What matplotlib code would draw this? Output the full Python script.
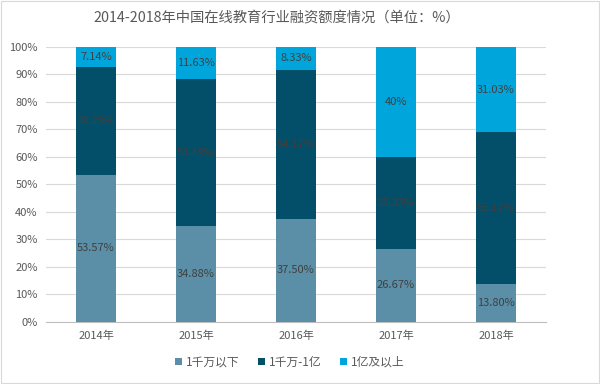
import matplotlib
matplotlib.use("Agg")
import matplotlib.pyplot as plt
from matplotlib.ticker import PercentFormatter
from matplotlib.patches import Rectangle

plt.rcParams['font.family'] = ['Noto Sans CJK SC', 'DejaVu Sans']

years = ['2014年', '2015年', '2016年', '2017年', '2018年']
series_names = ['1千万以下', '1千万-1亿', '1亿及以上']
below_10m = [53.57, 34.88, 37.50, 26.67, 13.80]
m10_to_100m = [39.29, 53.49, 54.17, 33.33, 55.17]
above_100m = [7.14, 11.63, 8.33, 40.00, 31.03]
labels_low = ['53.57%', '34.88%', '37.50%', '26.67%', '13.80%']
labels_mid = ['39.29%', '53.49%', '54.17%', '33.33%', '55.17%']
labels_high = ['7.14%', '11.63%', '8.33%', '40%', '31.03%']

colors = ['#5b8fa7', '#034f6a', '#00a5dc']

fig = plt.figure(figsize=(6, 3.84), dpi=100)
ax = fig.add_axes([0.0767, 0.1615, 0.8333, 0.7161])

x = list(range(len(years)))
bottom = [0.0] * len(years)
for vals, labs, col, name in zip([below_10m, m10_to_100m, above_100m],
                                 [labels_low, labels_mid, labels_high],
                                 colors, series_names):
    bars = ax.bar(x, vals, width=0.4, bottom=bottom, color=col, label=name, zorder=3)
    ax.bar_label(bars, labels=labs, label_type='center', fontsize=8, color='#404040')
    bottom = [b + v for b, v in zip(bottom, vals)]

ax.set_xlim(-0.5, 4.5)
ax.set_ylim(0, 100)
ax.set_yticks(range(0, 101, 10))
ax.yaxis.set_major_formatter(PercentFormatter(decimals=0))
ax.set_xticks(x)
ax.set_xticklabels(years)
ax.tick_params(axis='both', labelsize=8, colors='#595959', length=0)
ax.tick_params(axis='x', pad=6)
ax.tick_params(axis='y', pad=6)
ax.grid(axis='y', color='#d9d9d9', linewidth=0.8, zorder=0)
for s in ['top', 'right', 'left']:
    ax.spines[s].set_visible(False)
ax.spines['bottom'].set_color('#bfbfbf')

fig.text(0.462, 0.955, '2014-2018年中国在线教育行业融资额度情况（单位：%）',
         ha='center', va='center', fontsize=10.3, color='#595959')

leg = fig.legend(loc='center', bbox_to_anchor=(0.483, 0.057), ncol=3, frameon=False,
                 fontsize=8.5, handlelength=0.6, handleheight=0.6, handletextpad=0.3,
                 columnspacing=1.6)
for t in leg.get_texts():
    t.set_color('#595959')

fig.patches.append(Rectangle((0.002, 0.003), 0.996, 0.994, transform=fig.transFigure,
                             fill=False, edgecolor='#d9d9d9', linewidth=0.8))

fig.savefig('out.png', dpi=100)
